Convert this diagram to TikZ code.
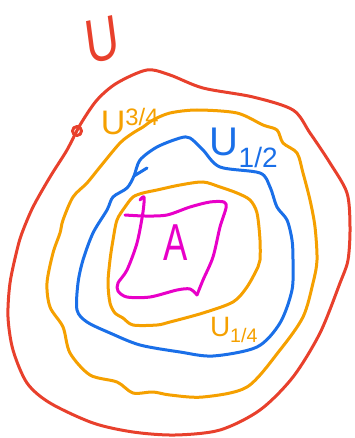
\documentclass[tikz,border=0pt]{standalone}
\usepackage{fontspec}
\setmainfont{Liberation Sans}
\usepackage{xcolor}
\definecolor{penred}{HTML}{E8402C}
\definecolor{penorange}{HTML}{F5A000}
\definecolor{penblue}{HTML}{1A6FE8}
\definecolor{penpink}{HTML}{E800C8}
\begin{document}
\begin{tikzpicture}[
  x=1pt, y=-1pt,
  pen/.style={line width=3pt, line cap=round, line join=round},
  redpen/.style={pen, draw=penred},
  orpen/.style={pen, draw=penorange},
  bluepen/.style={pen, draw=penblue},
  pinkpen/.style={pen, draw=penpink},
  lab/.style={inner sep=0pt, anchor=center}
]
\useasboundingbox (0,0) rectangle (354,438);

% U (outer set)
\draw[redpen] plot[smooth cycle] coordinates {(147,70) (170,75) (203,88) (253,97) (293,110) (310,133) (330,163) (347,193) (350,227) (348,260) (340,283) (320,333) (293,377) (260,410) (220,430) (175,435) (133,432) (93,423) (50,403) (27,383) (13,350) (8,317) (10,283) (17,250) (22,233) (33,207) (50,177) (67,150) (80,125) (97,100) (117,83)};
\draw[redpen] (77,131) circle[radius=4.5];

% U_{3/4}
\draw[orpen] plot[smooth cycle] coordinates {(153,120) (170,113) (197,110) (237,113) (263,125) (277,130) (283,143) (297,153) (303,173) (310,200) (315,227) (317,260) (313,283) (303,317) (280,350) (247,387) (203,397) (170,395) (153,392) (133,393) (117,382) (90,375) (70,353) (63,327) (50,307) (47,283) (53,253) (60,233) (63,220) (73,197) (87,183) (100,167) (120,143) (133,133) (143,127)};

% U_{1/2}
\draw[bluepen] plot[smooth cycle] coordinates {(180,138) (190,138) (203,150) (220,167) (260,173) (270,187) (277,207) (287,220) (292,240) (293,260) (292,290) (280,323) (257,347) (213,356) (180,352) (140,345) (110,333) (87,322) (77,310) (78,283) (83,260) (93,233) (107,210) (113,197) (127,188) (134,176) (140,160) (157,147)};
\draw[bluepen] (134,176) -- (147,168);

% U_{1/4}
\draw[orpen] plot[smooth cycle] coordinates {(180,185) (203,182) (220,187) (237,193) (250,200) (257,213) (260,240) (260,260) (258,267) (247,287) (233,302) (203,313) (170,322) (157,325) (133,325) (123,318) (115,313) (110,303) (108,283) (110,260) (113,240) (117,220) (125,207) (133,197) (143,193) (157,190)};

% A
\draw[pinkpen] plot[smooth] coordinates {(140,200) (144,197) (143,212) (137,243) (127,270) (118,283) (118,291) (127,297) (150,297) (177,290) (190,289) (197,295)};
\draw[pinkpen] plot[smooth] coordinates {(197,295) (203,280) (213,257) (220,227) (226,208) (224,202) (210,202) (190,207) (167,215) (145,216) (125,215)};

% labels
\node[lab, text=penred, xscale=0.75, rotate=10, font=\fontsize{62}{62}\selectfont] (labU) at (102,40) {U};
\node[lab, text=penorange, font=\fontsize{34}{34}\selectfont] (labU34) at (130,122) {U\textsuperscript{3/4}};
\node[lab, text=penblue, font=\fontsize{40}{40}\selectfont] (labU12) at (244,148) {U\textsubscript{1/2}};
\node[lab, text=penorange, font=\fontsize{28}{28}\selectfont] (labU14) at (234,330) {U\textsubscript{1/4}};
\node[lab, text=penpink, xscale=0.7, font=\fontsize{52}{52}\selectfont] (labA) at (176,243) {A};
\end{tikzpicture}
\end{document}
